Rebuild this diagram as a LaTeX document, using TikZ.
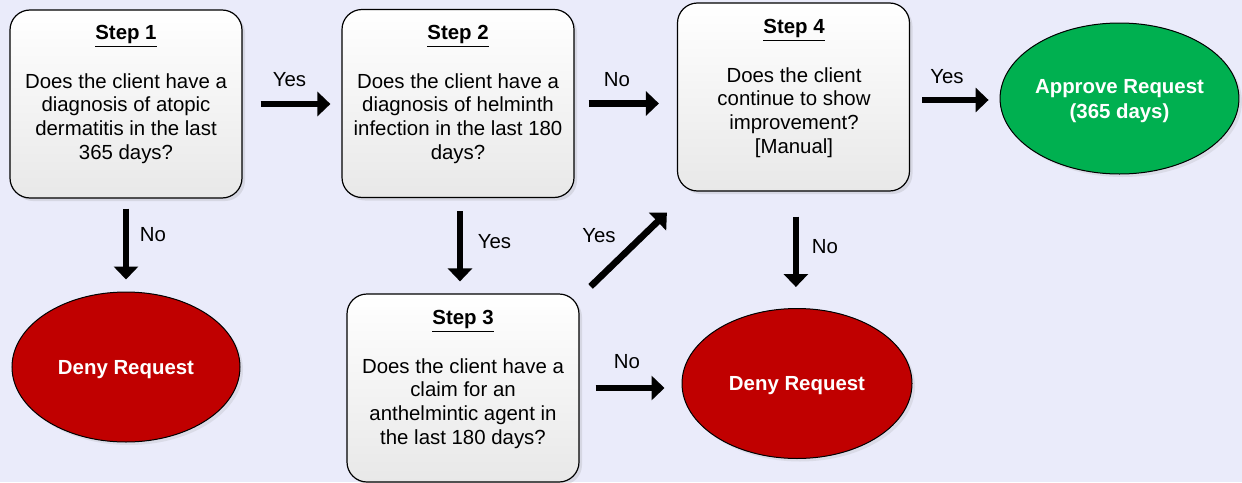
\documentclass[tikz,border=0pt]{standalone}
\usepackage{fontspec}
\setmainfont{Liberation Sans}
\usetikzlibrary{shapes.geometric,arrows.meta,shadows}
\definecolor{bg}{RGB}{234,235,250}
\definecolor{denyred}{RGB}{192,0,0}
\definecolor{appgreen}{RGB}{0,176,80}
\begin{document}
\begin{tikzpicture}[x=0.5pt,y=-0.5pt,
  every node/.style={font=\fontsize{10.2}{11.8}\selectfont},
  stepbox/.style={draw=black, line width=0.6pt, rounded corners=10pt,
    minimum width=116pt, minimum height=94pt, inner sep=0pt,
    top color=white, bottom color=black!9,
    drop shadow={opacity=0.18, shadow xshift=1.5pt, shadow yshift=-1.5pt}},
  steptext/.style={anchor=north, align=center, inner sep=0pt},
  endnode/.style={ellipse, draw=black, line width=0.5pt, text=white, align=center, inner sep=0pt,
    text depth=0pt,
    font=\fontsize{10.2}{12.5}\selectfont\bfseries,
    drop shadow={opacity=0.15, shadow xshift=1.5pt, shadow yshift=-1.5pt}},
  flow/.style={line width=3.3pt, -{Triangle[length=6.5pt,width=12pt]}},
  lbl/.style={inner sep=0pt}
]
\fill[bg] (0,0) rectangle (1242,482);
\useasboundingbox (0,0) rectangle (1242,482);

% step boxes
\node[stepbox] (s1) at (126,104) {};
\node[stepbox] (s2) at (458,103.5) {};
\node[stepbox] (s4) at (793.5,97) {};
\node[stepbox] (s3) at (463,388) {};

\node[steptext] (s1t) at (126,24.7) {\underline{\textbf{Step 1}}\\[12.7pt]Does the client have a\\diagnosis of atopic\\dermatitis in the last\\365 days?};
\node[steptext] (s2t) at (458,24.7) {\underline{\textbf{Step 2}}\\[12.7pt]Does the client have a\\diagnosis of helminth\\infection in the last 180\\days?};
\node[steptext] (s4t) at (794,18.7) {\underline{\textbf{Step 4}}\\[12.7pt]Does the client\\continue to show\\improvement?\\{[}Manual{]}};
\node[steptext] (s3t) at (463,309.7) {\underline{\textbf{Step 3}}\\[12.7pt]Does the client have a\\claim for an\\anthelmintic agent in\\the last 180 days?};

% end nodes
\node[endnode, fill=denyred, minimum width=114pt, minimum height=75pt] (deny1) at (126,367) {Deny Request};
\node[endnode, fill=denyred, minimum width=115pt, minimum height=75pt] (deny2) at (797,383.5) {Deny Request};
\node[endnode, fill=appgreen, minimum width=116.5pt, minimum height=75.5pt] (ap) at (1119.5,98.5) {Approve Request\\(365 days)};

% connectors
\draw[flow, shorten <=9pt, shorten >=5.5pt] (s1.east) -- (s1.east -| s2.west);
\draw[flow, shorten <=7pt, shorten >=9pt] (s2.east) -- (s2.east -| s4.west);
\draw[flow, shorten <=6pt, shorten >=5.5pt] ([yshift=-1.5pt]s4.east) -- ([yshift=-1.5pt]s4.east -| ap.west);
\draw[flow, shorten <=5pt, shorten >=6pt] (s1.south) -- (s1.south |- deny1.north);
\draw[flow, shorten <=6.5pt, shorten >=6pt] ([xshift=1pt]s2.south) -- ([xshift=1pt]s2.south |- s3.north);
\draw[flow, shorten <=12.5pt, shorten >=10.5pt] ([xshift=1.2pt]s4.south) -- ([xshift=1.2pt]s4.south |- deny2.north);
\draw[flow, shorten <=8pt, shorten >=8.5pt] (s3.east) -- (s3.east -| deny2.west);
\draw[flow] ([shift={(5.5pt,3.5pt)}]s3.north east) -- ([shift={(-5pt,-10.5pt)}]s4.south west);

% labels
\node[lbl] (l12) at (289.5,79.5) {Yes};
\node[lbl] (l24) at (617,80) {No};
\node[lbl] (l4a) at (947,76.5) {Yes};
\node[lbl] (l1d) at (153,234.5) {No};
\node[lbl] (l23) at (494.5,242) {Yes};
\node[lbl] (l34) at (599,235.5) {Yes};
\node[lbl] (l4d) at (825,246.5) {No};
\node[lbl] (l3d) at (627,362) {No};
\end{tikzpicture}
\end{document}
